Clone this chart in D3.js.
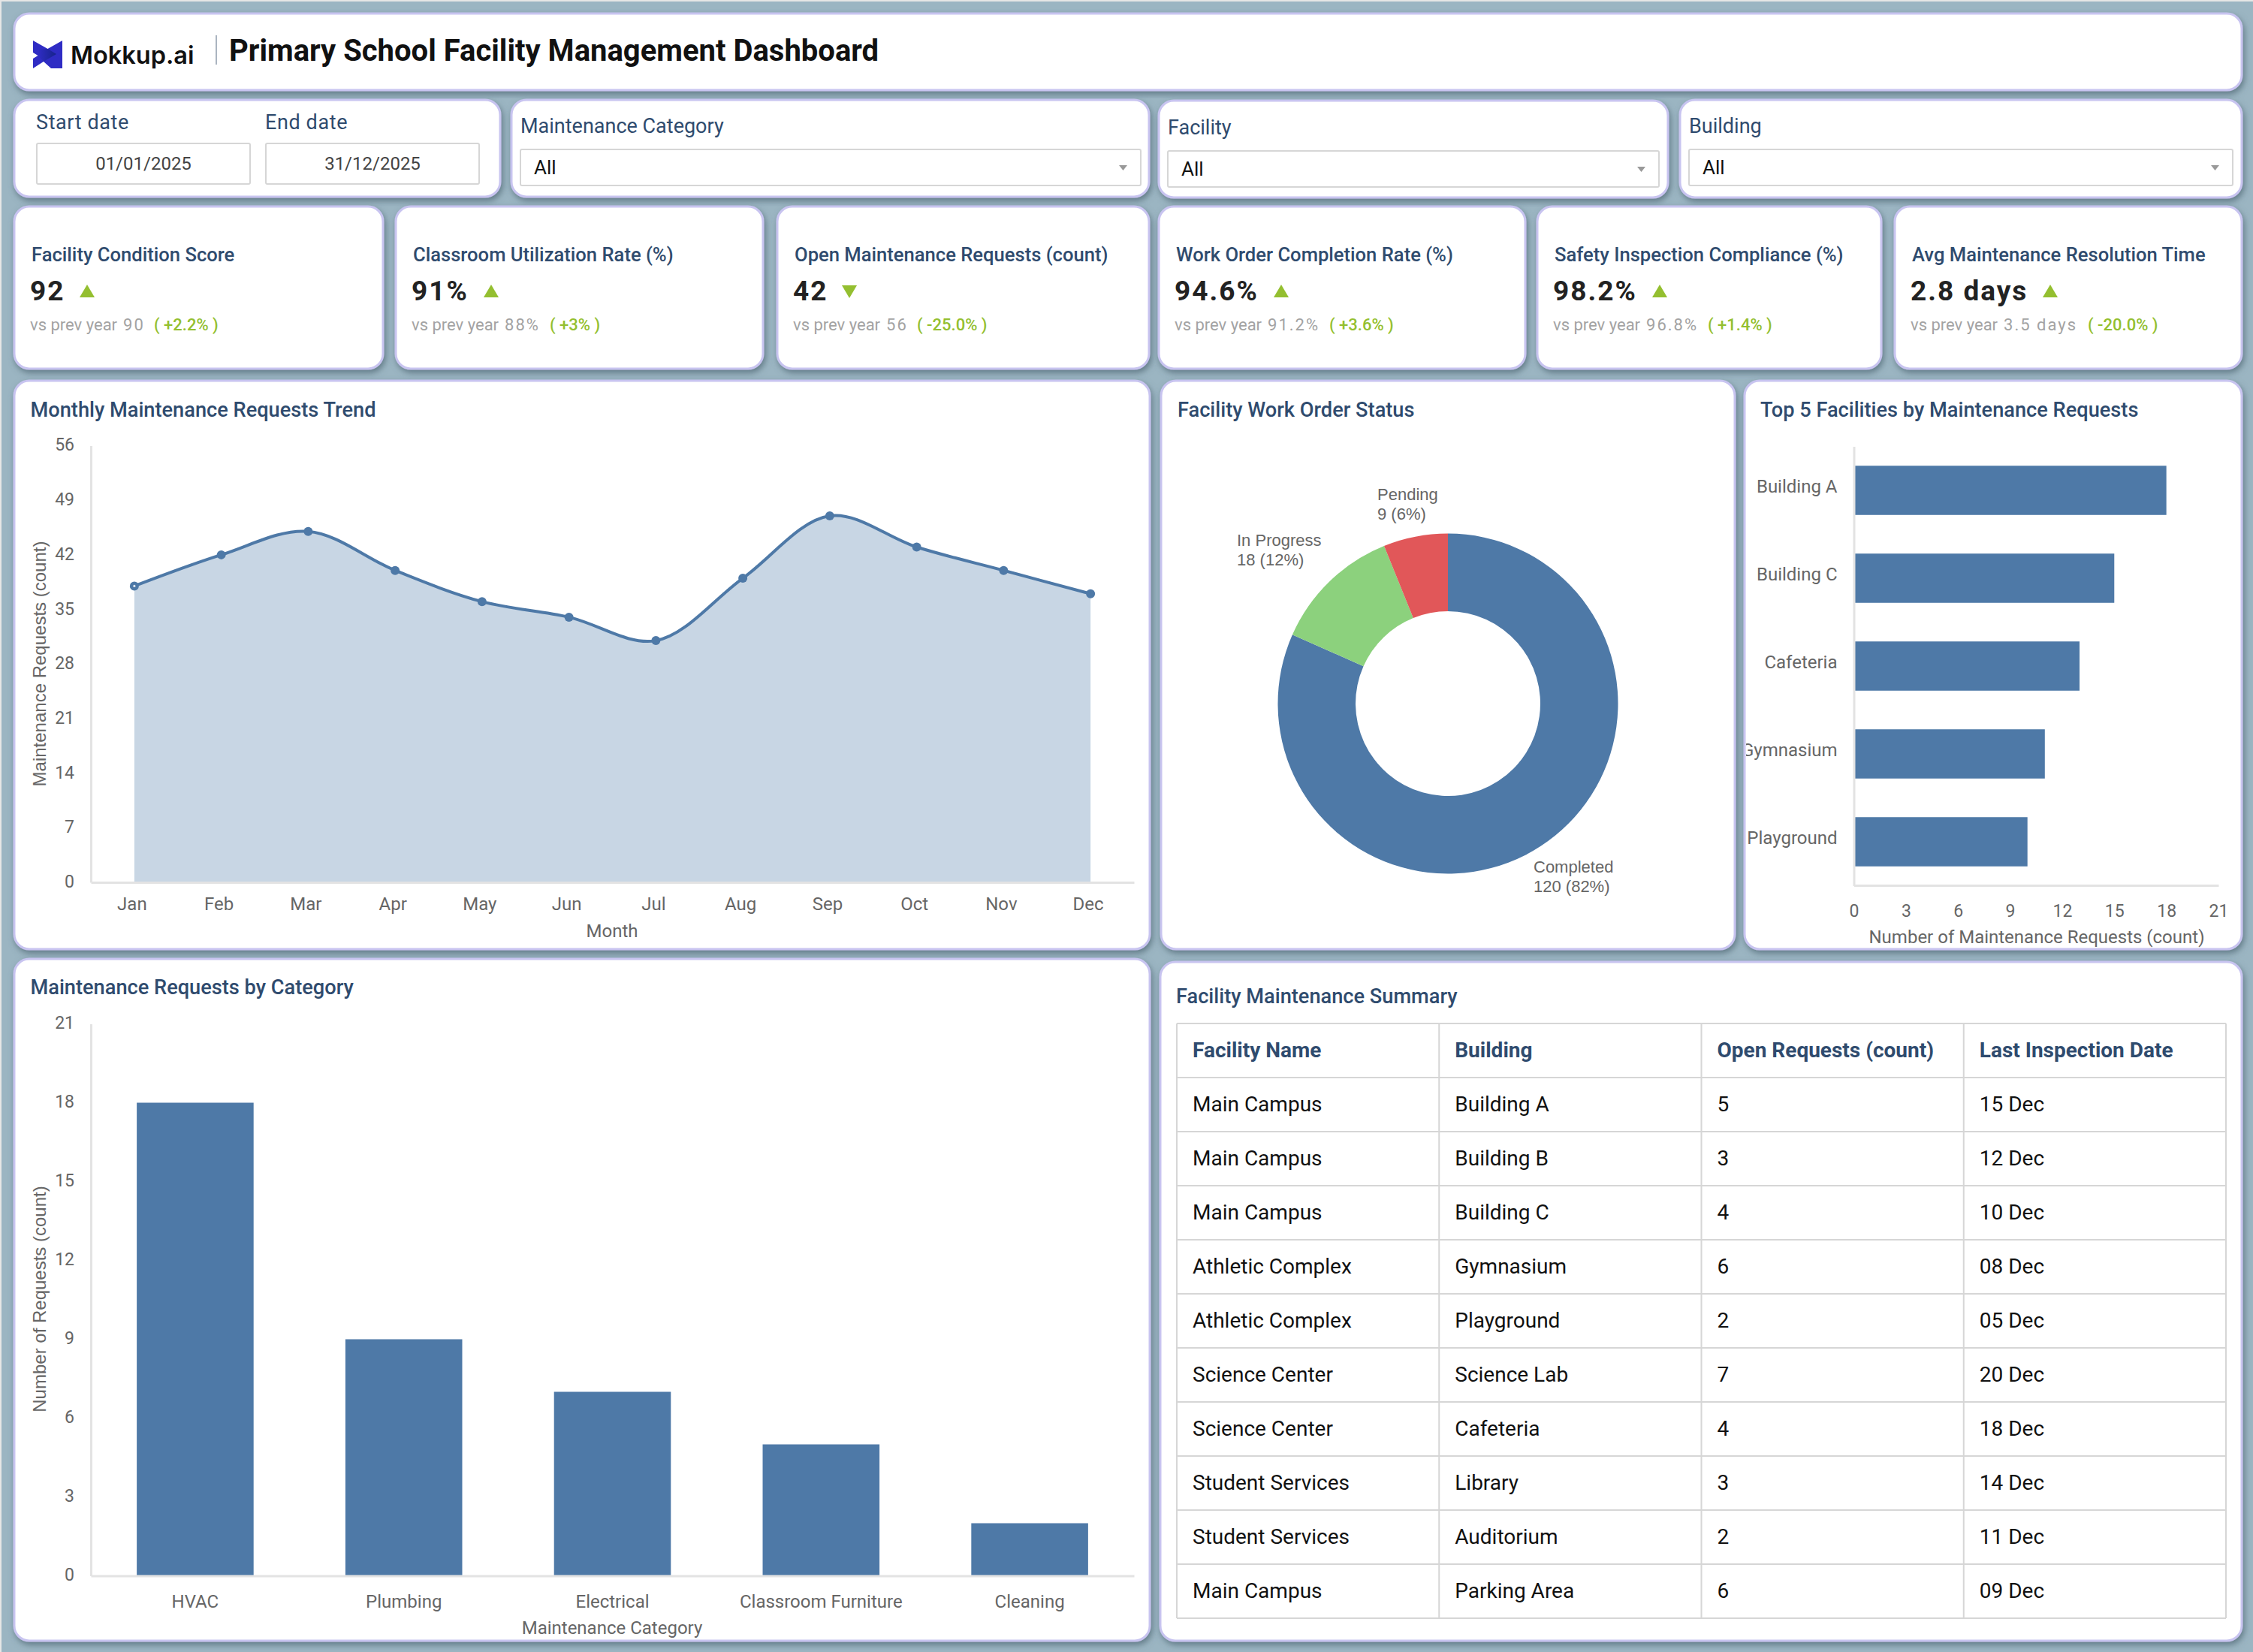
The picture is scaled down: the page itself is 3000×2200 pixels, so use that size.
<!DOCTYPE html>
<html>
<head>
<meta charset="utf-8">
<title>Primary School Facility Management Dashboard</title>
<script src="https://cdnjs.cloudflare.com/ajax/libs/d3/7.8.5/d3.min.js"></script>
<style>
  html, body { margin: 0; padding: 0; background: #e6e6e6; }
  svg { display: block; }
  text { font-family: Roboto, sans-serif; }
  .axis .domain { stroke: #e3e3e3; stroke-width: 3px; }
  .axis text { font-family: Roboto, sans-serif; fill: #666; }
</style>
</head>
<body>
<svg id="dash" width="3000" height="2200"></svg>
<script>
// ---- data ----
var months = ['Jan', 'Feb', 'Mar', 'Apr', 'May', 'Jun', 'Jul', 'Aug', 'Sep', 'Oct', 'Nov', 'Dec'];
var monthlyRequests = [38, 42, 45, 40, 36, 34, 31, 39, 47, 43, 40, 37];
var monthlyTicks = [0, 7, 14, 21, 28, 35, 42, 49, 56];

var statusNames = ['Completed', 'In Progress', 'Pending'];
var statusCounts = [120, 18, 9];
var statusLabels = ['120 (82%)', '18 (12%)', '9 (6%)'];

var topFacilities = ['Building A', 'Building C', 'Cafeteria', 'Gymnasium', 'Playground'];
var topRequests = [18, 15, 13, 11, 10];
var topTicks = [0, 3, 6, 9, 12, 15, 18, 21];

var categories = ['HVAC', 'Plumbing', 'Electrical', 'Classroom Furniture', 'Cleaning'];
var categoryRequests = [18, 9, 7, 5, 2];
var categoryTicks = [0, 3, 6, 9, 12, 15, 18, 21];

var kpiTitles = ['Facility Condition Score', 'Classroom Utilization Rate (%)', 'Open Maintenance Requests (count)',
  'Work Order Completion Rate (%)', 'Safety Inspection Compliance (%)', 'Avg Maintenance Resolution Time'];
var kpiValues = ['92', '91%', '42', '94.6%', '98.2%', '2.8 days'];
var kpiPrev = ['90', '88%', '56', '91.2%', '96.8%', '3.5 days'];
var kpiDeltas = ['+2.2%', '+3%', '-25.0%', '+3.6%', '+1.4%', '-20.0%'];
var kpiArrowUp = [true, true, false, true, true, true];

var tableHeaders = ['Facility Name', 'Building', 'Open Requests (count)', 'Last Inspection Date'];
var tableFacility = ['Main Campus', 'Main Campus', 'Main Campus', 'Athletic Complex', 'Athletic Complex',
  'Science Center', 'Science Center', 'Student Services', 'Student Services', 'Main Campus'];
var tableBuilding = ['Building A', 'Building B', 'Building C', 'Gymnasium', 'Playground',
  'Science Lab', 'Cafeteria', 'Library', 'Auditorium', 'Parking Area'];
var tableOpen = [5, 3, 4, 6, 2, 7, 4, 3, 2, 6];
var tableDate = ['15 Dec', '12 Dec', '10 Dec', '08 Dec', '05 Dec', '20 Dec', '18 Dec', '14 Dec', '11 Dec', '09 Dec'];

// ---- colours ----
var navy = '#2f4b6e', blue = '#4e79a7', green = '#8cd17d', red = '#e15759', lime = '#94bf30', tickGrey = '#666';

var svg = d3.select('#dash');
var defs = svg.append('defs');

var shadow = defs.append('filter').attr('id', 'cardShadow')
  .attr('x', '-5%').attr('y', '-5%').attr('width', '110%').attr('height', '115%');
shadow.append('feDropShadow').attr('dx', 2).attr('dy', 4).attr('stdDeviation', 4)
  .attr('flood-color', '#4e6572').attr('flood-opacity', 0.75);

var logoGrad = defs.append('linearGradient').attr('id', 'logoGrad');
logoGrad.append('stop').attr('offset', '0%').attr('stop-color', '#2f2cc4');
logoGrad.append('stop').attr('offset', '100%').attr('stop-color', '#16238a');

svg.append('rect').attr('x', 2).attr('y', 2).attr('width', 2998).attr('height', 2198).attr('fill', '#9bb5c2');

// draws a white dashboard card, returns nothing
function card(x0, y0, x1, y1) {
  svg.append('rect')
    .attr('x', x0).attr('y', y0).attr('width', x1 - x0).attr('height', y1 - y0)
    .attr('rx', 20).attr('ry', 20)
    .attr('fill', '#fff').attr('stroke', '#c8c4f0').attr('stroke-width', 3)
    .attr('filter', 'url(#cardShadow)');
}

function label(parent, x, y, str, size, color, weight, family) {
  return parent.append('text')
    .attr('x', x).attr('y', y).attr('dy', '0.35em')
    .attr('font-size', size).attr('fill', color)
    .attr('font-weight', weight || 400)
    .style('font-family', family || 'Roboto, sans-serif')
    .text(str);
}

// ---- header ----
card(19, 18, 2985, 120);
svg.append('path').attr('fill', '#2f2cc4')
  .attr('d', 'M44 54 L63.5 65 L83 54 L83 91 L68 91 L58 82 L44 91 L44 78 L50.5 74 L44 70 Z');
svg.append('path').attr('fill', 'url(#logoGrad)')
  .attr('d', 'M52 66 L63.5 65 L75 72 L58 82 L50.5 74 Z');
label(svg, 94, 74, 'Mokkup.ai', 32.5, '#111', 600, 'Inter, sans-serif');
svg.append('line').attr('x1', 288).attr('x2', 288).attr('y1', 47).attr('y2', 86)
  .attr('stroke', '#aab4c0').attr('stroke-width', 2);
label(svg, 305, 67, 'Primary School Facility Management Dashboard', 40, '#111', 700);

// ---- filters ----
card(19, 133, 666, 262);
card(681, 133, 1530, 262);
card(1543, 134, 2221, 263);
card(2237, 133, 2985, 263);

function box(x0, y0, x1, y1) {
  svg.append('rect').attr('x', x0).attr('y', y0).attr('width', x1 - x0).attr('height', y1 - y0)
    .attr('rx', 2).attr('fill', '#fff').attr('stroke', '#d6d6d6').attr('stroke-width', 2);
}

function dateInput(x0, x1, caption, value) {
  label(svg, x0 - 1, 163, caption, 27, navy).attr('letter-spacing', 0.6);
  box(x0, 191, x1, 245);
  label(svg, (x0 + x1) / 2, 218, value, 24, '#444').attr('text-anchor', 'middle');
}
dateInput(49, 333, 'Start date', '01/01/2025');
dateInput(354, 638, 'End date', '31/12/2025');

function dropdown(x0, x1, y0, caption) {
  label(svg, x0, y0 - 31, caption, 27, navy);
  box(x0, y0, x1, y0 + 48);
  label(svg, x0 + 18, y0 + 24, 'All', 26, '#111');
  svg.append('path').attr('fill', '#999')
    .attr('d', d3.line()([[x1 - 29, y0 + 21], [x1 - 18, y0 + 21], [x1 - 23.5, y0 + 28]]));
}
dropdown(693, 1519, 199, 'Maintenance Category');
dropdown(1555, 2209, 201, 'Facility');
dropdown(2249, 2973, 199, 'Building');

// ---- KPI cards ----
var kpiLeft = [19, 527, 1035, 1543, 2047, 2523];
var kpiRight = [510, 1016, 1530, 2031, 2505, 2985];
var kpiArrowX = [116, 654, 1131, 1706, 2210, 2730];
var kpiDeltaX = [205, 732, 1221, 1770, 2274, 2780];

kpiTitles.forEach(function(title, i) {
  card(kpiLeft[i], 275, kpiRight[i], 491);
  var x = kpiLeft[i] + 22;
  label(svg, x + 1, 339, title, 25.6, navy, 500);
  label(svg, x - 1, 387, kpiValues[i], 37, '#222', 700).attr('letter-spacing', 2);
  var ax = kpiArrowX[i];
  var tri = kpiArrowUp[i] ? [[ax - 10, 396], [ax + 10, 396], [ax, 379]] : [[ax - 10, 380], [ax + 10, 380], [ax, 397]];
  svg.append('path').attr('fill', lime).attr('d', d3.line()(tri));
  var sub = label(svg, x - 1, 432.5, 'vs prev year', 22, '#a3a3a3');
  sub.append('tspan').attr('dx', 8).attr('letter-spacing', 2).text(kpiPrev[i]);
  label(svg, kpiDeltaX[i], 432.5, '( ' + kpiDeltas[i] + ' )', 22, lime, 500);
});

// ---- chart cards ----
card(19, 507, 1531, 1264);
card(1546, 507, 2310, 1264);
card(2323, 507, 2985, 1264);
card(19, 1277, 1531, 2185);
card(1545, 1281, 2985, 2185);

label(svg, 40.5, 545, 'Monthly Maintenance Requests Trend', 27.2, navy, 500);
label(svg, 1568, 545, 'Facility Work Order Status', 27.2, navy, 500);
label(svg, 2344, 545, 'Top 5 Facilities by Maintenance Requests', 27.2, navy, 500);
label(svg, 40.5, 1314, 'Maintenance Requests by Category', 27.2, navy, 500);
label(svg, 1566, 1326, 'Facility Maintenance Summary', 27.2, navy, 500);

function yTitle(x, y, str) {
  svg.append('text').attr('transform', 'translate(' + x + ',' + y + ') rotate(-90)')
    .attr('text-anchor', 'middle').attr('dy', '0.35em')
    .attr('font-size', 24).attr('fill', tickGrey)
    .style('font-family', '"Liberation Sans", sans-serif')
    .text(str);
}

// ---- monthly trend ----
var trendX = d3.scaleBand().domain(months).range([121, 1510]);
var trendY = d3.scaleLinear().domain([0, 56]).range([1175, 593.5]);
var trendCenter = function(d, i) { return trendX(months[i]) + trendX.bandwidth() / 2; };
var trendCurve = d3.curveCatmullRom.alpha(0.5);

svg.append('path').datum(monthlyRequests).attr('fill', '#c8d6e4')
  .attr('d', d3.area().x(trendCenter).y0(trendY(0)).y1(function(d) { return trendY(d); }).curve(trendCurve));

var trendAxisX = svg.append('g').attr('class', 'axis').attr('transform', 'translate(0,1175)')
  .call(d3.axisBottom(trendX).tickSize(0).tickPadding(19.5));
trendAxisX.selectAll('text').attr('font-size', 24).attr('dx', -3);
var trendAxisY = svg.append('g').attr('class', 'axis').attr('transform', 'translate(121,0)')
  .call(d3.axisLeft(trendY).tickValues(monthlyTicks).tickSize(0).tickPadding(22));
trendAxisY.selectAll('text').attr('font-size', 23).attr('dy', '0.28em');

svg.append('path').datum(monthlyRequests).attr('fill', 'none').attr('stroke', blue).attr('stroke-width', 4)
  .attr('d', d3.line().x(trendCenter).y(function(d) { return trendY(d); }).curve(trendCurve));
svg.selectAll('.pt').data(monthlyRequests).enter().append('circle').attr('class', 'pt')
  .attr('cx', trendCenter).attr('cy', function(d) { return trendY(d); }).attr('r', 6).attr('fill', blue);
// the first marker has a pale centre in the original
svg.append('circle').attr('cx', trendCenter(monthlyRequests[0], 0)).attr('cy', trendY(monthlyRequests[0]))
  .attr('r', 1.6).attr('fill', '#dfe7ef');

yTitle(53, 884, 'Maintenance Requests (count)');
label(svg, 815, 1240, 'Month', 24, tickGrey).attr('text-anchor', 'middle');

// ---- status donut ----
var donutG = svg.append('g').attr('transform', 'translate(1928,937)');
var pie = d3.pie().sort(null);
var arc = d3.arc().innerRadius(123).outerRadius(226.5);
var statusColors = [blue, green, red];
donutG.selectAll('path').data(pie(statusCounts)).enter().append('path')
  .attr('d', arc).attr('fill', function(d, i) { return statusColors[i]; });

var statusLabelX = [2042, 1647, 1834];
var statusLabelY = [1154, 719, 658];
statusNames.forEach(function(name, i) {
  label(svg, statusLabelX[i], statusLabelY[i], name, 22, tickGrey, 400, '"Liberation Sans", sans-serif');
  label(svg, statusLabelX[i], statusLabelY[i] + 26, statusLabels[i], 22, tickGrey, 400, '"Liberation Sans", sans-serif');
});

// ---- top 5 bars ----
defs.append('clipPath').attr('id', 'topClip').append('rect')
  .attr('x', 2325).attr('y', 507).attr('width', 660).attr('height', 757);
var topG = svg.append('g').attr('clip-path', 'url(#topClip)');
var topX = d3.scaleLinear().domain([0, 21]).range([2468.5, 2954]);
var topY = d3.scaleBand().domain(topFacilities).range([594.5, 1179.5]).paddingInner(0.44).paddingOuter(0.22);

topG.selectAll('rect.bar').data(topRequests).enter().append('rect').attr('class', 'bar')
  .attr('x', topX(0))
  .attr('y', function(d, i) { return topY(topFacilities[i]); })
  .attr('width', function(d) { return topX(d) - topX(0); })
  .attr('height', topY.bandwidth())
  .attr('fill', blue);

var topAxisY = topG.append('g').attr('class', 'axis').attr('transform', 'translate(2468.5,0)')
  .call(d3.axisLeft(topY).tickSize(0).tickPadding(22));
topAxisY.selectAll('text').attr('font-size', 24).attr('dy', '0.12em');
var topAxisX = topG.append('g').attr('class', 'axis').attr('transform', 'translate(0,1179)')
  .call(d3.axisBottom(topX).tickValues(topTicks).tickSize(0).tickPadding(26));
topAxisX.selectAll('text').attr('font-size', 23);
label(svg, 2712, 1248, 'Number of Maintenance Requests (count)', 24, tickGrey).attr('text-anchor', 'middle');

// ---- category bars ----
var catX = d3.scaleBand().domain(categories).range([121, 1510]).paddingInner(0.44).paddingOuter(0.22);
var catY = d3.scaleLinear().domain([0, 21]).range([2098.5, 1363.5]);

svg.selectAll('rect.catbar').data(categoryRequests).enter().append('rect').attr('class', 'catbar')
  .attr('x', function(d, i) { return catX(categories[i]); })
  .attr('y', function(d) { return catY(d); })
  .attr('width', catX.bandwidth())
  .attr('height', function(d) { return catY(0) - catY(d); })
  .attr('fill', blue);

var catAxisX = svg.append('g').attr('class', 'axis').attr('transform', 'translate(0,2098.5)')
  .call(d3.axisBottom(catX).tickSize(0).tickPadding(25));
catAxisX.selectAll('text').attr('font-size', 24);
var catAxisY = svg.append('g').attr('class', 'axis').attr('transform', 'translate(121,0)')
  .call(d3.axisLeft(catY).tickValues(categoryTicks).tickSize(0).tickPadding(22));
catAxisY.selectAll('text').attr('font-size', 23).attr('dy', '0.28em');
yTitle(53, 1730, 'Number of Requests (count)');
label(svg, 815, 2168, 'Maintenance Category', 24, tickGrey).attr('text-anchor', 'middle');

// ---- summary table ----
var tableCols = d3.scaleBand().domain(d3.range(4)).range([1567, 2964]);
var tableRows = d3.scaleBand().domain(d3.range(11)).range([1363, 2155]);
var tableG = svg.append('g');

d3.range(12).forEach(function(r) {
  var y = r < 11 ? tableRows(r) : 2155;
  tableG.append('line').attr('x1', 1567).attr('x2', 2964).attr('y1', y).attr('y2', y)
    .attr('stroke', '#d6d6d6').attr('stroke-width', 2);
});
d3.range(5).forEach(function(c) {
  var x = c < 4 ? tableCols(c) : 2964;
  tableG.append('line').attr('x1', x).attr('x2', x).attr('y1', 1363).attr('y2', 2155)
    .attr('stroke', '#d6d6d6').attr('stroke-width', 2);
});

function cell(c, r, str, color, weight) {
  label(tableG, tableCols(c) + 21, tableRows(r) + tableRows.bandwidth() / 2 - 0.5, str, 28, color, weight);
}
tableHeaders.forEach(function(h, c) { cell(c, 0, h, navy, 700); });
tableFacility.forEach(function(d, i) {
  cell(0, i + 1, d, '#111');
  cell(1, i + 1, tableBuilding[i], '#111');
  cell(2, i + 1, tableOpen[i], '#111');
  cell(3, i + 1, tableDate[i], '#111');
});
</script>
</body>
</html>
